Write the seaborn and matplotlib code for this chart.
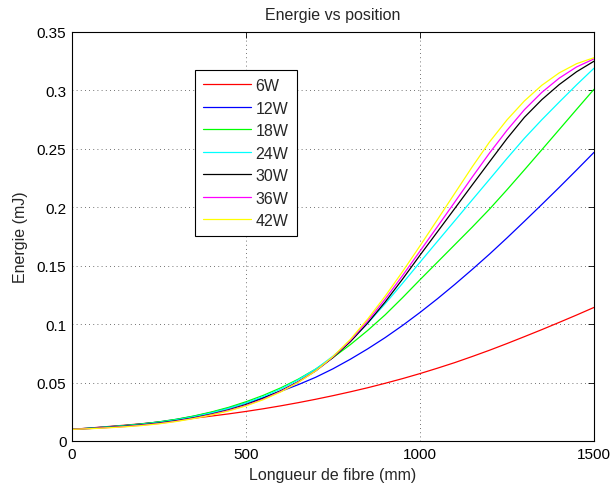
import numpy as np
import pandas as pd
import matplotlib
matplotlib.use("Agg")
import matplotlib.pyplot as plt
import seaborn as sns

# Position along the fibre (mm)
position = [0, 50, 100, 150, 200, 250, 300, 350, 400, 450, 500, 550, 600, 650, 700, 750,
            800, 850, 900, 950, 1000, 1050, 1100, 1150, 1200, 1250, 1300, 1350, 1400, 1450, 1500]

# Pulse energy (mJ) for each pump power
e_6w = [0.0100, 0.0111, 0.0123, 0.0135, 0.0148, 0.0162, 0.0178, 0.0195, 0.0213, 0.0232, 0.0253,
        0.0276, 0.0301, 0.0328, 0.0357, 0.0388, 0.0421, 0.0456, 0.0494, 0.0534, 0.0577, 0.0623,
        0.0671, 0.0723, 0.0777, 0.0834, 0.0893, 0.0953, 0.1015, 0.1078, 0.1143]
e_12w = [0.0100, 0.0110, 0.0121, 0.0132, 0.0146, 0.0163, 0.0185, 0.0212, 0.0244, 0.0282, 0.0325,
         0.0373, 0.0425, 0.0482, 0.0545, 0.0618, 0.0700, 0.0789, 0.0885, 0.0989, 0.1100, 0.1217,
         0.1340, 0.1468, 0.1600, 0.1738, 0.1880, 0.2024, 0.2170, 0.2319, 0.2470]
e_18w = [0.0100, 0.0109, 0.0120, 0.0132, 0.0146, 0.0164, 0.0186, 0.0214, 0.0248, 0.0288, 0.0336,
         0.0391, 0.0455, 0.0529, 0.0615, 0.0714, 0.0825, 0.0947, 0.1080, 0.1227, 0.1380, 0.1530,
         0.1680, 0.1830, 0.1985, 0.2150, 0.2320, 0.2492, 0.2665, 0.2838, 0.3010]
e_24w = [0.0100, 0.0108, 0.0118, 0.0129, 0.0142, 0.0159, 0.0180, 0.0207, 0.0240, 0.0279, 0.0325,
         0.0380, 0.0445, 0.0523, 0.0615, 0.0726, 0.0855, 0.1008, 0.1175, 0.1350, 0.1530, 0.1708,
         0.1885, 0.2063, 0.2240, 0.2418, 0.2590, 0.2749, 0.2900, 0.3048, 0.3190]
e_30w = [0.0100, 0.0107, 0.0116, 0.0126, 0.0138, 0.0154, 0.0174, 0.0199, 0.0230, 0.0267, 0.0312,
         0.0366, 0.0430, 0.0507, 0.0600, 0.0714, 0.0850, 0.1011, 0.1190, 0.1386, 0.1590, 0.1790,
         0.1990, 0.2191, 0.2390, 0.2588, 0.2770, 0.2921, 0.3050, 0.3160, 0.3250]
e_36w = [0.0100, 0.0106, 0.0114, 0.0123, 0.0135, 0.0150, 0.0170, 0.0195, 0.0226, 0.0262, 0.0305,
         0.0359, 0.0425, 0.0504, 0.0600, 0.0719, 0.0860, 0.1028, 0.1215, 0.1416, 0.1625, 0.1834,
         0.2045, 0.2258, 0.2465, 0.2659, 0.2835, 0.2983, 0.3105, 0.3201, 0.3270]
e_42w = [0.0100, 0.0105, 0.0112, 0.0121, 0.0132, 0.0147, 0.0167, 0.0192, 0.0222, 0.0257, 0.0300,
         0.0354, 0.0420, 0.0501, 0.0600, 0.0723, 0.0870, 0.1045, 0.1240, 0.1450, 0.1670, 0.1894,
         0.2120, 0.2346, 0.2560, 0.2748, 0.2910, 0.3044, 0.3150, 0.3229, 0.3280]

powers = ["6W", "12W", "18W", "24W", "30W", "36W", "42W"]
series = [e_6w, e_12w, e_18w, e_24w, e_30w, e_36w, e_42w]
colors = ["#ff0000", "#0000ff", "#00ff00", "#00ffff", "#000000", "#ff00ff", "#ffff00"]

df = pd.concat(
    [pd.DataFrame({"position": position, "energie": vals, "puissance": p})
     for p, vals in zip(powers, series)],
    ignore_index=True,
)

sns.set_theme(style="white")
plt.rcParams["font.family"] = ["Liberation Sans", "DejaVu Sans"]
plt.rcParams["xtick.direction"] = "in"
plt.rcParams["ytick.direction"] = "in"

fig = plt.figure(figsize=(6.13, 4.89), dpi=100)
ax = fig.add_axes([72 / 613, 47 / 489, 522 / 613, 409 / 489])

sns.lineplot(
    data=df, x="position", y="energie", hue="puissance",
    hue_order=powers, palette=dict(zip(powers, colors)),
    linewidth=0.9, ax=ax, legend=True,
)

ax.set_xlim(0, 1500)
ax.set_ylim(0, 0.35)
ax.set_xticks([0, 500, 1000, 1500])
ax.set_yticks(np.arange(0, 0.351, 0.05))
ax.set_yticklabels(["0", "0.05", "0.1", "0.15", "0.2", "0.25", "0.3", "0.35"])
ax.tick_params(axis="both", labelsize=11, length=4, width=0.6, colors="black",
               top=True, right=True, pad=4)
ax.grid(True, linestyle=(0, (1, 4)), color="#444444", linewidth=0.6)
for s in ax.spines.values():
    s.set_color("black")
    s.set_linewidth(0.8)

ax.set_title("Energie vs position", fontsize=11.5, pad=9)
ax.set_xlabel("Longueur de fibre (mm)", fontsize=11.5, labelpad=5)
ax.set_ylabel("Energie (mJ)", fontsize=11.5, labelpad=6)

leg = ax.legend(
    loc="upper left", bbox_to_anchor=(0.2356, 0.907), fontsize=11.5,
    frameon=True, fancybox=False, framealpha=1, edgecolor="black",
    handlelength=3.0, labelspacing=0.47, borderpad=0.5, handletextpad=0.3,
    borderaxespad=0,
)
leg.get_frame().set_linewidth(0.8)
for line in leg.get_lines():
    line.set_linewidth(0.9)

fig.savefig("out.png", dpi=100)
